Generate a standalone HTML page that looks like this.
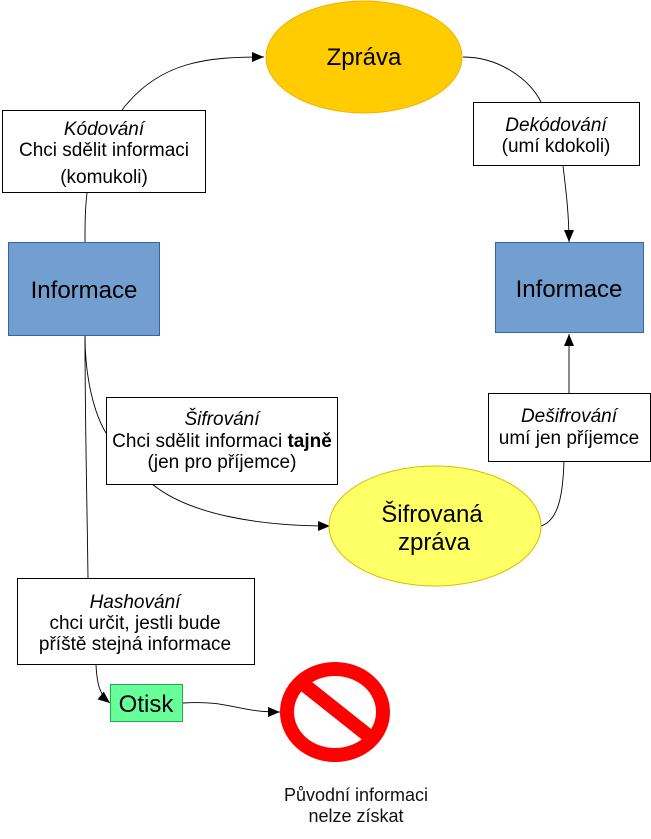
<!DOCTYPE html>
<html><head><meta charset="utf-8"><style>
html,body{margin:0;padding:0;background:#fff;}
svg{display:block;font-family:"Liberation Sans",sans-serif;}
</style></head><body>
<svg width="651" height="839" viewBox="0 0 651 839" xmlns="http://www.w3.org/2000/svg">
<defs>
<marker id="a" markerWidth="12" markerHeight="10" refX="12" refY="5" orient="auto" markerUnits="userSpaceOnUse">
<path d="M0,0 L12,5 L0,10 Z" fill="#000"/></marker>
</defs>
<g fill="none" stroke="#000" stroke-width="0.9">
<path d="M122,110 C160,60 210,57 264,57" marker-end="url(#a)"/>
<path d="M463,57 C500,57 530,80 541,102"/>
<path d="M563,166 C566,190 569,215 569,242" marker-end="url(#a)"/>
<path d="M87,193 C85,210 85,225 85,242"/>
<path d="M85,336 C85,380 95,415 106,433"/>
<path d="M85,336 C85,420 87,500 88,578"/>
<path d="M152,484 C190,515 260,526 330,526" marker-end="url(#a)"/>
<path d="M541,526 C560,520 563,490 564,461"/>
<path d="M569,393 C569,370 569,350 569,334" marker-end="url(#a)"/>
<path d="M96,665 C97,685 100,695 110,703" marker-end="url(#a)"/>
<path d="M183,703 C230,700 235,712 280,712" marker-end="url(#a)"/>
</g>
<ellipse cx="364" cy="57" rx="98" ry="56" fill="#ffcc00" stroke="#f0b000"/>
<text x="364" y="65" font-size="24" text-anchor="middle">Zpráva</text>
<rect x="2.5" y="110.5" width="203" height="82" fill="#fff" stroke="#000"/>
<text text-anchor="middle" font-size="19"><tspan x="104" y="135" font-style="italic">Kódování</tspan><tspan x="104" y="156">Chci sdělit informaci</tspan><tspan x="104" y="183">(komukoli)</tspan></text>
<rect x="473.5" y="102.5" width="166" height="63" fill="#fff" stroke="#000"/>
<text text-anchor="middle" font-size="19"><tspan x="556" y="131" font-style="italic">Dekódování</tspan><tspan x="556" y="152">(umí kdokoli)</tspan></text>
<rect x="8.5" y="242.5" width="151" height="93" fill="#729fcf" stroke="#3465a4"/>
<text x="84" y="298" font-size="24" text-anchor="middle">Informace</text>
<rect x="495.5" y="242.5" width="148" height="90" fill="#729fcf" stroke="#3465a4"/>
<text x="569" y="297" font-size="24" text-anchor="middle">Informace</text>
<rect x="106.5" y="397.5" width="231" height="87" fill="#fff" stroke="#000"/>
<text text-anchor="middle" font-size="19"><tspan x="222" y="425" font-style="italic">Šifrování</tspan><tspan x="222" y="447">Chci sdělit informaci <tspan font-weight="bold">tajně</tspan></tspan><tspan x="222" y="468">(jen pro příjemce)</tspan></text>
<rect x="488.5" y="393.5" width="162" height="68" fill="#fff" stroke="#000"/>
<text text-anchor="middle" font-size="19"><tspan x="569" y="422" font-style="italic">Dešifrování</tspan><tspan x="569" y="444">umí jen příjemce</tspan></text>
<ellipse cx="435" cy="526" rx="106" ry="60" fill="#ffff66" stroke="#d4c000"/>
<text text-anchor="middle" font-size="24"><tspan x="432" y="522">Šifrovaná</tspan><tspan x="434" y="550">zpráva</tspan></text>
<rect x="17.5" y="578.5" width="237" height="86" fill="#fff" stroke="#000"/>
<text text-anchor="middle" font-size="19"><tspan x="135" y="608" font-style="italic">Hashování</tspan><tspan x="135" y="629">chci určit, jestli bude</tspan><tspan x="135" y="650">příště stejná informace</tspan></text>
<rect x="110.5" y="684.5" width="72" height="37" fill="#66ff99" stroke="#22aa44"/>
<text x="146" y="712" font-size="24" text-anchor="middle">Otisk</text>
<ellipse cx="335" cy="712" rx="48" ry="43" fill="none" stroke="#ff0000" stroke-width="14"/>
<line x1="302" y1="683" x2="370" y2="737" stroke="#ff0000" stroke-width="14"/>
<text text-anchor="middle" font-size="18" fill="#111"><tspan x="356" y="801">Původní informaci</tspan><tspan x="356" y="822">nelze získat</tspan></text>
</svg>
</body></html>
